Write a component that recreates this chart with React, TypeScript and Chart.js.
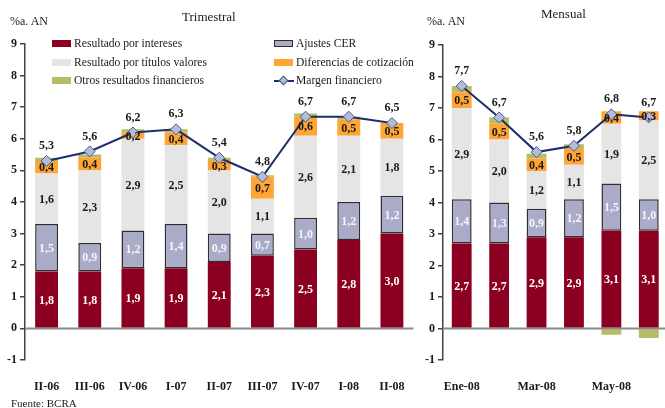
import React, { useEffect, useRef } from "react";
import { Chart, registerables } from "chart.js";

Chart.register(...registerables);

// ---- Trimestral ----
const quarters = ["II-06", "III-06", "IV-06", "I-07", "II-07", "III-07", "IV-07", "I-08", "II-08"];
const qIntereses = [1.8, 1.8, 1.9, 1.9, 2.1, 2.3, 2.5, 2.8, 3.0];
const qAjustesCER = [1.5, 0.9, 1.2, 1.4, 0.9, 0.7, 1.0, 1.2, 1.2];
const qTitulos = [1.6, 2.3, 2.9, 2.5, 2.0, 1.1, 2.6, 2.1, 1.8];
const qDiferencias = [0.4, 0.4, 0.2, 0.4, 0.3, 0.7, 0.6, 0.5, 0.5];
const qOtros = [0.1, 0.1, 0.1, 0.1, 0.1, 0.05, 0.1, 0.1, 0.0];
const qMargen = [5.3, 5.6, 6.2, 6.3, 5.4, 4.8, 6.7, 6.7, 6.5];

// ---- Mensual ----
const months = ["Ene-08", "Feb-08", "Mar-08", "Abr-08", "May-08", "Jun-08"];
const monthTicks = ["Ene-08", "", "Mar-08", "", "May-08", ""];
const mIntereses = [2.7, 2.7, 2.9, 2.9, 3.1, 3.1];
const mAjustesCER = [1.4, 1.3, 0.9, 1.2, 1.5, 1.0];
const mTitulos = [2.9, 2.0, 1.2, 1.1, 1.9, 2.5];
const mDiferencias = [0.5, 0.5, 0.4, 0.5, 0.4, 0.3];
const mOtros = [0.2, 0.2, 0.15, 0.15, -0.2, -0.3];
const mMargen = [7.7, 6.7, 5.6, 5.8, 6.8, 6.7];

const yTicks = [-1, 0, 1, 2, 3, 4, 5, 6, 7, 8, 9];

const FONT = '"Liberation Serif", "DejaVu Serif", "Times New Roman", serif';
const C_INTERESES = "#8b0021";
const C_CER = "#a9abc9";
const C_TITULOS = "#e5e5e5";
const C_DIFERENCIAS = "#ffa535";
const C_OTROS = "#b8bc64";
const C_MARGEN = "#1b2f6b";
const C_DIAMOND = "#b4bcda";

const fmt = (v: number) => v.toFixed(1).replace(".", ",");

// Draws the zero line and the value labels of segments and of the margin line
const valueLabels = {
  id: "valueLabels",
  afterDatasetsDraw(chart: any) {
    const { ctx, chartArea, scales } = chart;
    const y0 = scales.y.getPixelForValue(0);
    ctx.save();
    ctx.strokeStyle = "#8a8a8a";
    ctx.lineWidth = 2;
    ctx.beginPath();
    ctx.moveTo(chartArea.left, y0);
    ctx.lineTo(chartArea.right, y0);
    ctx.stroke();

    ctx.font = `bold 12px ${FONT}`;
    ctx.textAlign = "center";
    ctx.textBaseline = "middle";
    chart.data.datasets.forEach((ds: any, i: number) => {
      if (!ds.labelColor) return;
      const meta = chart.getDatasetMeta(i);
      ctx.fillStyle = ds.labelColor;
      meta.data.forEach((el: any, j: number) => {
        const v = ds.data[j];
        if (ds.type === "line") {
          ctx.fillText(fmt(v), el.x, el.y - 15);
        } else {
          const p = el.getProps(["x", "y", "base"], true);
          ctx.fillText(fmt(v), p.x, (p.y + p.base) / 2 + 1);
        }
      });
    });
    ctx.restore();
  },
};

type Series = {
  intereses: number[];
  cer: number[];
  titulos: number[];
  diferencias: number[];
  otros: number[];
  margen: number[];
};

function buildConfig(labels: string[], tickLabels: string[], s: Series, axisWidth: number, padTop: number, padRight: number): any {
  const bar = (label: string, data: number[], color: string, labelColor?: string, extra: any = {}) => ({
    type: "bar",
    label,
    data,
    backgroundColor: color,
    borderWidth: 0,
    barPercentage: 0.53,
    categoryPercentage: 1,
    order: 1,
    labelColor,
    ...extra,
  });
  return {
    type: "bar",
    data: {
      labels,
      datasets: [
        {
          type: "line",
          label: "Margen financiero",
          data: s.margen,
          borderColor: C_MARGEN,
          borderWidth: 2,
          pointStyle: "rectRot",
          pointRadius: 5.5,
          pointBackgroundColor: C_DIAMOND,
          pointBorderColor: "#4a5a90",
          pointBorderWidth: 1,
          stack: "margen",
          order: 0,
          labelColor: "#1a1a1a",
        },
        bar("Resultado por intereses", s.intereses, C_INTERESES, "#ffffff"),
        bar("Ajustes CER", s.cer, C_CER, "#f4f4fa", {
          borderWidth: 1.5,
          borderColor: "#2e2e2e",
          borderSkipped: false,
        }),
        bar("Resultado por títulos valores", s.titulos, C_TITULOS, "#1a1a1a"),
        bar("Diferencias de cotización", s.diferencias, C_DIFERENCIAS, "#1a1a1a"),
        bar("Otros resultados financieros", s.otros, C_OTROS),
      ],
    },
    options: {
      animation: false,
      responsive: false,
      maintainAspectRatio: false,
      layout: { padding: { top: padTop, right: padRight, left: 0, bottom: 0 } },
      plugins: { legend: { display: false }, tooltip: { enabled: false }, title: { display: false } },
      scales: {
        x: {
          stacked: true,
          grid: { display: false },
          border: { display: false },
          ticks: {
            autoSkip: false,
            maxRotation: 0,
            padding: 12,
            color: "#1a1a1a",
            font: { family: FONT, size: 12, weight: "bold" },
            callback: (_v: any, i: number) => tickLabels[i],
          },
          afterFit: (scale: any) => {
            scale.height = 48;
          },
        },
        y: {
          stacked: true,
          min: yTicks[0],
          max: yTicks[yTicks.length - 1],
          afterBuildTicks: (scale: any) => {
            scale.ticks = yTicks.map((v) => ({ value: v }));
          },
          grid: { display: true, drawOnChartArea: false, drawTicks: true, tickLength: 5, color: "#444444", lineWidth: 1.5 },
          border: { display: true, color: "#444444", width: 1.5 },
          ticks: {
            padding: 3,
            color: "#1a1a1a",
            font: { family: FONT, size: 12, weight: "bold" },
          },
          afterFit: (scale: any) => {
            scale.width = axisWidth;
          },
        },
      },
    },
    plugins: [valueLabels],
  };
}

function StackedChart(props: {
  left: number;
  width: number;
  labels: string[];
  tickLabels: string[];
  series: Series;
  axisWidth: number;
  padTop: number;
  padRight: number;
}) {
  const ref = useRef<HTMLCanvasElement | null>(null);
  useEffect(() => {
    if (!ref.current) return;
    const chart = new Chart(
      ref.current,
      buildConfig(props.labels, props.tickLabels, props.series, props.axisWidth, props.padTop, props.padRight)
    );
    return () => chart.destroy();
  }, []);
  return (
    <canvas
      ref={ref}
      width={props.width}
      height={408}
      style={{ position: "absolute", left: props.left, top: 0, width: props.width, height: 408 }}
    />
  );
}

const textStyle = (left: number, centerY: number, size: number, extra: any = {}): any => ({
  position: "absolute",
  left,
  top: centerY - 8,
  height: 16,
  lineHeight: "16px",
  fontSize: size,
  fontFamily: FONT,
  color: "#1a1a1a",
  whiteSpace: "nowrap",
  ...extra,
});

function Swatch(props: { left: number; cy: number; color: string; border?: boolean }) {
  return (
    <div
      style={{
        position: "absolute",
        left: props.left,
        top: props.cy - 4,
        width: 19,
        height: 7,
        background: props.color,
        boxSizing: "border-box",
        border: props.border ? "1px solid #2e2e2e" : "none",
      }}
    />
  );
}

function LineKey(props: { left: number; cy: number }) {
  return (
    <>
      <div
        style={{ position: "absolute", left: props.left, top: props.cy - 1, width: 20, height: 2, background: C_MARGEN }}
      />
      <div
        style={{
          position: "absolute",
          left: props.left + 6,
          top: props.cy - 4,
          width: 7,
          height: 7,
          background: C_DIAMOND,
          border: "1px solid #4a5a90",
          boxSizing: "border-box",
          transform: "rotate(45deg)",
        }}
      />
    </>
  );
}

export default function App() {
  const qSeries: Series = {
    intereses: qIntereses,
    cer: qAjustesCER,
    titulos: qTitulos,
    diferencias: qDiferencias,
    otros: qOtros,
    margen: qMargen,
  };
  const mSeries: Series = {
    intereses: mIntereses,
    cer: mAjustesCER,
    titulos: mTitulos,
    diferencias: mDiferencias,
    otros: mOtros,
    margen: mMargen,
  };
  const rows = [44.3, 63, 81.3];
  const legendSize = 11.6;
  return (
    <div
      style={{
        position: "fixed",
        left: 0,
        top: 0,
        width: 665,
        height: 408,
        overflow: "hidden",
        background: "#ffffff",
      }}
    >
      <StackedChart left={0} width={420} labels={quarters} tickLabels={quarters} series={qSeries} axisWidth={25} padTop={44} padRight={6} />
      <StackedChart left={420} width={254} labels={months} tickLabels={monthTicks} series={mSeries} axisWidth={23} padTop={45} padRight={1} />

      <div style={textStyle(10, 21, 12)}>%a. AN</div>
      <div style={textStyle(182, 17, 13)}>Trimestral</div>
      <div style={textStyle(427, 20.5, 12)}>%a. AN</div>
      <div style={textStyle(541, 14, 13)}>Mensual</div>
      <div style={textStyle(11, 403, 11)}>Fuente: BCRA</div>

      <Swatch left={52} cy={rows[0]} color={C_INTERESES} />
      <div style={textStyle(74, rows[0], legendSize)}>Resultado por intereses</div>
      <Swatch left={52} cy={rows[1]} color={C_TITULOS} />
      <div style={textStyle(74, rows[1], legendSize)}>Resultado por títulos valores</div>
      <Swatch left={52} cy={rows[2]} color={C_OTROS} />
      <div style={textStyle(74, rows[2], legendSize)}>Otros resultados financieros</div>

      <Swatch left={274} cy={rows[0]} color={C_CER} border />
      <div style={textStyle(296, rows[0], legendSize)}>Ajustes CER</div>
      <Swatch left={274} cy={rows[1]} color={C_DIFERENCIAS} />
      <div style={textStyle(296, rows[1], legendSize)}>Diferencias de cotización</div>
      <LineKey left={274} cy={rows[2]} />
      <div style={textStyle(296, rows[2], legendSize)}>Margen financiero</div>
    </div>
  );
}
